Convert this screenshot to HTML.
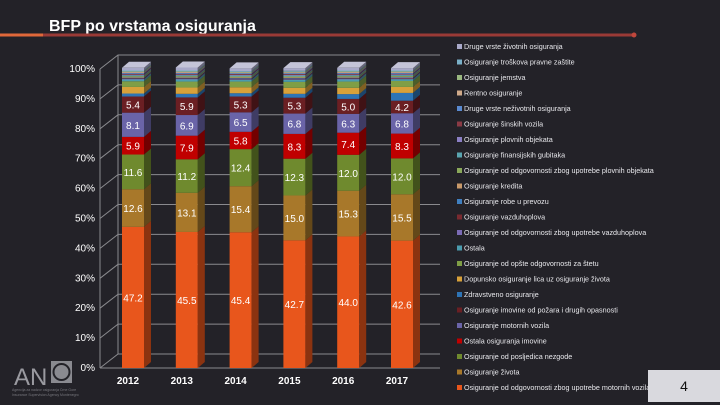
<!DOCTYPE html>
<html><head><meta charset="utf-8"><style>
body{margin:0;background:#232228;width:720px;height:405px;overflow:hidden;font-family:"Liberation Sans",sans-serif}
svg{position:absolute;left:0;top:0}
</style></head><body>
<svg width="720" height="405">
<text x="49" y="31" fill="#fff" font-size="16" font-weight="bold">BFP po vrstama osiguranja</text>
<line x1="0" y1="35" x2="43" y2="35" stroke="#e0683a" stroke-width="3"/>
<line x1="43" y1="35" x2="634" y2="35" stroke="#9a3a36" stroke-width="3"/>
<circle cx="634" cy="35" r="2.5" fill="#c0473c"/>
<g id="chart"></g>
<g id="legend"></g>
<g>
<text x="14" y="385" fill="#9a9aa0" font-size="24">AN</text>
<rect x="51" y="361" width="21" height="22" fill="#8a8a90"/>
<circle cx="61.5" cy="372" r="8" fill="none" stroke="#232228" stroke-width="2"/>
<text x="12" y="391" fill="#77777d" font-size="3.5">Agencija za nadzor osiguranja Crne Gore</text>
<text x="12" y="396" fill="#77777d" font-size="3.5">Insurance Supervision Agency Montenegro</text>
</g>
<rect x="648" y="370" width="72" height="32" fill="#d9d9de"/>
<text x="684" y="391" fill="#111" font-size="14" text-anchor="middle">4</text>
</svg>
<script>
const years=["2012","2013","2014","2015","2016","2017"];
const orangeVals=[47.2,45.5,45.4,42.7,44.0,42.6];
const zivotaVals=[12.6,13.1,15.4,15.0,15.3,15.5];
const nezgodeVals=[11.6,11.2,12.4,12.3,12.0,12.0];
const imovineVals=[5.9,7.9,5.8,8.3,7.4,8.3];
const motornihVals=[8.1,6.9,6.5,6.8,6.3,6.8];
const pozaraVals=[5.4,5.9,5.3,5.3,5.0,4.2];
const zdravVals=[1.0,1.2,1.1,1.3,1.6,2.6];
const dopunskoVals=[2.2,2.1,2.0,2.0,2.1,2.0];
const opsteVals=[1.9,2.0,1.9,2.0,2.1,2.0];
const ostalaVals=[0.6,0.7,0.6,0.7,0.7,0.6];
const smallVals=[[0.2,0.2,0.2,0.2,0.3,0.3,0.2,0.3,0.3,0.3,0.2,0.3,0.9],[0.2,0.2,0.2,0.2,0.3,0.3,0.2,0.3,0.3,0.3,0.2,0.3,1.0],[0.2,0.2,0.2,0.2,0.3,0.3,0.2,0.3,0.3,0.2,0.2,0.3,0.9],[0.2,0.2,0.2,0.2,0.3,0.3,0.2,0.3,0.3,0.3,0.2,0.3,0.9],[0.2,0.2,0.2,0.2,0.3,0.3,0.2,0.3,0.3,0.3,0.2,0.3,0.9],[0.2,0.2,0.2,0.2,0.3,0.3,0.2,0.2,0.3,0.3,0.2,0.3,0.8]];
const yTicks=["0%","10%","20%","30%","40%","50%","60%","70%","80%","90%","100%"];
const legendLabels=["Druge vrste životnih osiguranja","Osiguranje troškova pravne zaštite","Osiguranje jemstva","Rentno osiguranje","Druge vrste neživotnih osiguranja","Osiguranje šinskih vozila","Osiguranje plovnih objekata","Osiguranje finansijskih gubitaka","Osiguranje od odgovornosti zbog upotrebe plovnih objekata","Osiguranje kredita","Osiguranje robe u prevozu","Osiguranje vazduhoplova","Osiguranje od odgovornosti zbog upotrebe vazduhoplova","Ostala","Osiguranje od opšte odgovornosti za štetu","Dopunsko osiguranje lica uz osiguranje života","Zdravstveno osiguranje","Osiguranje imovine od požara i drugih opasnosti","Osiguranje motornih vozila","Ostala osiguranja imovine","Osiguranje od posljedica nezgode","Osiguranje života","Osiguranje od odgovornosti zbog upotrebe motornih vozila"];
const colors=["#e8561c","#a8782a","#6f8a2e","#c00000","#6a64a8","#6b1f23","#2e74b5","#d8a13a","#7f9e46","#4b9cae","#7b6bb5","#7a2a30","#3f7fc0","#c99a6a","#8aa85a","#5aa5b0","#8b7fc4","#8a3a45","#5a8ad0","#d0aa8a","#9ab880","#7ab0c8","#a9a9c9"];
const NS="http://www.w3.org/2000/svg";
const chart=document.getElementById('chart');
const X0=100,Y0=368,H=299,DX=18,DY=14;
function y(v){return Y0-v/100*H;}
function xb(i){return 122+i*53.8;}
function el(t,a,p){const e=document.createElementNS(NS,t);for(const k in a)e.setAttribute(k,a[k]);(p||chart).appendChild(e);return e;}
function shade(c,f){const n=parseInt(c.slice(1),16);let r=(n>>16)*f,g=((n>>8)&255)*f,b=(n&255)*f;return `rgb(${r|0},${g|0},${b|0})`;}
yTicks.forEach((t,i)=>{const v=i*10,yy=y(v);
const gl=el('polyline',{points:`${X0},${yy} ${X0+DX},${yy-DY} 440,${yy-DY}`,fill:'none',stroke:'#8a8a8e','stroke-width':1});

const tl=el('text',{x:X0-5,y:yy+3,fill:'#fff','font-size':10,'text-anchor':'end'});tl.textContent=t;
});
el('line',{x1:X0,y1:Y0,x2:440,y2:Y0,stroke:'#8a8a8e'});
el('line',{x1:X0,y1:y(100),x2:X0,y2:Y0,stroke:'#8a8a8e'});
el('line',{x1:X0+DX,y1:y(100)-DY,x2:X0+DX,y2:Y0-DY,stroke:'#8a8a8e'});
years.forEach((yr,i)=>{
const series=[orangeVals[i],zivotaVals[i],nezgodeVals[i],imovineVals[i],motornihVals[i],pozaraVals[i],zdravVals[i],dopunskoVals[i],opsteVals[i],ostalaVals[i]].concat(smallVals[i]);
const x=xb(i),w=22,d=7,dd=6;let acc=0;
series.forEach((v,k)=>{const y1=y(acc),y2=y(acc+v),c=colors[k];
const r=el('rect',{x:x,y:y2,width:w,height:y1-y2,fill:c});

el('polygon',{points:`${x+w},${y1} ${x+w+d},${y1-dd} ${x+w+d},${y2-dd} ${x+w},${y2}`,fill:shade(c,0.6)});
if(k<6){const lb=el('text',{x:x+w/2,y:(y1+y2)/2+4,fill:'#fff','font-size':10,'text-anchor':'middle'});lb.textContent=v.toFixed(1);
}
acc+=v;});
el('polygon',{points:`${x},${y(acc)} ${x+d},${y(acc)-dd} ${x+w+d},${y(acc)-dd} ${x+w},${y(acc)}`,fill:'#c4c4d8'});
const xl=el('text',{x:x+6,y:384,fill:'#fff','font-size':10,'font-weight':'bold','text-anchor':'middle'});xl.textContent=yr;
});
const lg=document.getElementById('legend');
legendLabels.forEach((t,i)=>{const yy=47+i*15.5,c=colors[22-i];
const g=el('g',{},lg);
el('rect',{x:457,y:yy-3,width:5,height:5,fill:c},g);
const tx=el('text',{x:464,y:yy+2,fill:'#e8e8ec','font-size':7.2},g);tx.textContent=t;});
</script>
</body></html>
